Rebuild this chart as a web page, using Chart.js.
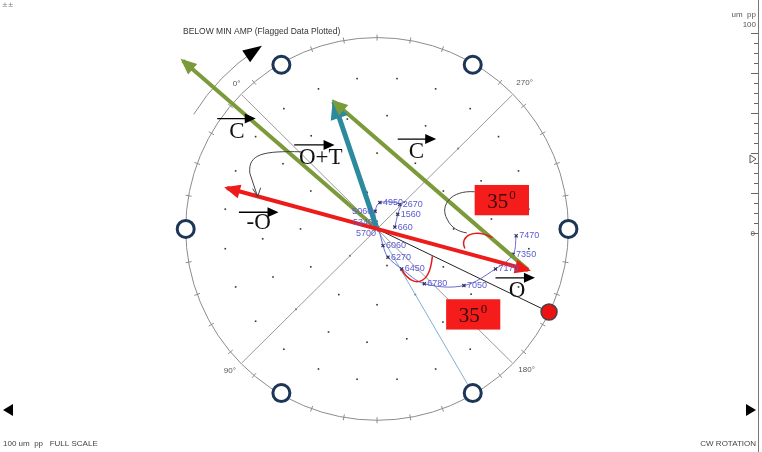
<!DOCTYPE html>
<html><head><meta charset="utf-8">
<script src="https://cdn.jsdelivr.net/npm/chart.js@4/dist/chart.umd.min.js"></script>
<style>html,body{margin:0;padding:0;background:#fff}#wrap{position:relative;width:762px;height:452px}</style>
</head><body><div id="wrap"><canvas id="c"></canvas></div>
<script>
// ---------------- DATA ----------------
const rpmLabels = ['660','1560','2670','4950','5060','5340','5700','6060','6270','6450','6780','7050','7170','7350','7470'];
const orbitX = [9.3,10.8,11.9,1.5,-1.0,-0.5,1.0,3.1,5.7,12.9,24.7,45.4,61.9,71.1,72.7];
const orbitY = [1.0,7.7,12.9,13.9,9.3,3.6,-0.5,-8.8,-14.9,-21.1,-28.9,-29.9,-21.1,-13.4,-3.6];
const orbitLabelSide = ['R','R','R','R','L','L','L','R','R','R','R','R','R','R','R'];

const vectorNames = ['O','-O','T','C','C'];
const vecStartX = [0, 0, 0, 78.9, 0];
const vecStartY = [0, 0, 0, -21.6, 0];
const vecEndX   = [78.9, -78.4, -22.6, -22.6, -101.5];
const vecEndY   = [-21.6, 21.6, 67.1, 67.1, 88.7];

const probeAngles = [0, 60, 120, 180, 240, 300];   // degrees, on full-scale circle
const highSpotAngle = -26;                          // red marker
const refLineAngle = -60;                           // light blue reference line
const crossAngles = [45, 135];
const angleLabels = ['0°', '270°', '90°', '180°'];
const angleLabelDeg = [135, 45, 225, 315];
const fullScale = 100;                              // um pp
const gridRings = [20, 40, 60, 80];
const gridCounts = [6, 12, 18, 24];
const barTicks = [0, 20, 40, 60, 80, 100];
const barValue = 37;
const phaseText = '35';

// ---------------- LAYOUT / STYLE ----------------
const vecColors = ['#ee1b1b','#ee1b1b','#2b8a9d','#7b9a3a','#7b9a3a'];
const vecWidths = [4, 4, 5, 4, 4];
const vecHead = [[16,7],[16,7],[20,9],[16,7],[16,7]];
const labelArrows = [ // [x1,x2,y, textX,textY, text]
  [-83.5,-63.4,58.2,-73.2,51.0,'C'],
  [-43.3,-22.2,44.3,-29.4,37.2,'O+T'],
  [10.8,30.9,47.4,20.6,40.8,'C'],
  [-72.2,-51.5,8.8,-61.9,3.2,'-O'],
  [61.9,82.5,-25.8,73.2,-32.8,'O']
];
const boxes = [[51.0,79.4,23.2,7.2],[36.1,64.4,-37.1,-53.1]];

const datasets = [];
vectorNames.forEach((n,i)=>{
  datasets.push({label:n, data:[{x:vecStartX[i],y:vecStartY[i]},{x:vecEndX[i],y:vecEndY[i]}],
    showLine:true, borderColor:vecColors[i], borderWidth:vecWidths[i], pointRadius:0, borderCapStyle:'butt'});
});
datasets.push({label:'orbit', data:orbitX.map((x,i)=>({x, y:orbitY[i]})), showLine:true,
  borderColor:'#6a6ad6', borderWidth:1, tension:0.35, pointRadius:2.2, pointStyle:'crossRot',
  pointBorderColor:'#30305a', pointBorderWidth:1.2});

function head(c,x0,y0,x1,y1,L,w,color){
  const a=Math.atan2(y1-y0,x1-x0);
  const tx=x1+3*Math.cos(a), ty=y1+3*Math.sin(a);
  c.fillStyle=color; c.beginPath(); c.moveTo(tx,ty);
  c.lineTo(tx-L*Math.cos(a)+w*Math.sin(a), ty-L*Math.sin(a)-w*Math.cos(a));
  c.lineTo(tx-L*Math.cos(a)-w*Math.sin(a), ty-L*Math.sin(a)+w*Math.cos(a));
  c.closePath(); c.fill();
}

const overlay = {
  id:'overlay',
  beforeDatasetsDraw(chart){
    const c=chart.ctx, X=chart.scales.x, Y=chart.scales.y;
    const px=v=>X.getPixelForValue(v), py=v=>Y.getPixelForValue(v);
    const cx=px(0), cy=py(0), R=px(fullScale)-cx;
    const pol=(r,d)=>[px(r*Math.cos(d*Math.PI/180)), py(r*Math.sin(d*Math.PI/180))];
    c.save();
    // dot grid
    c.fillStyle='#333';
    gridRings.forEach((r,i)=>{const n=gridCounts[i];for(let k=0;k<n;k++){const d=(k+0.5)/n*360+15;const p=pol(r,d);c.fillRect(p[0]-0.8,p[1]-0.8,1.6,1.6);}});
    // main circle + ticks
    c.strokeStyle='#8c8c8c'; c.lineWidth=1;
    c.beginPath(); c.arc(cx,cy,R,0,Math.PI*2); c.stroke();
    for(let d=0; d<360; d+=10){const a=d*Math.PI/180;
      c.beginPath(); c.moveTo(cx+(R-3)*Math.cos(a), cy-(R-3)*Math.sin(a)); c.lineTo(cx+(R+3)*Math.cos(a), cy-(R+3)*Math.sin(a)); c.stroke();}
    // crosshairs
    c.strokeStyle='#9a9a9a';
    crossAngles.forEach(d=>{const p1=pol(fullScale,d),p2=pol(fullScale,d+180);c.beginPath();c.moveTo(p1[0],p1[1]);c.lineTo(p2[0],p2[1]);c.stroke();});
    // reference lines
    c.strokeStyle='#7fb0d6'; c.lineWidth=1;
    let p=pol(fullScale,refLineAngle); c.beginPath(); c.moveTo(cx,cy); c.lineTo(p[0],p[1]); c.stroke();
    c.strokeStyle='#222'; c.lineWidth=1;
    p=pol(fullScale,highSpotAngle); c.beginPath(); c.moveTo(cx,cy); c.lineTo(p[0],p[1]); c.stroke();
    // angle labels
    c.fillStyle='#555'; c.font='8px "Liberation Sans", Arial'; c.textBaseline='middle';
    const offs=[[-9,-11,'left'],[4,-12,'left'],[-18,8,'left'],[6,7,'left']];
    angleLabels.forEach((t,i)=>{const q=pol(fullScale,angleLabelDeg[i]);c.textAlign=offs[i][2];c.fillText(t,q[0]+offs[i][0],q[1]+offs[i][1]);});
    // outer rotation arc
    const Ro=R*1.13, a0=148*Math.PI/180, a1=124*Math.PI/180;
    c.strokeStyle='#8c8c8c'; c.lineWidth=1;
    c.beginPath(); c.arc(cx,cy,Ro,-a0,-a1,false); c.stroke();
    const ex=cx+Ro*Math.cos(a1), ey=cy-Ro*Math.sin(a1);
    const tx=Math.sin(a1), ty=Math.cos(a1); // clockwise tangent on screen
    c.fillStyle='#000'; c.beginPath();
    c.moveTo(ex+tx*7, ey+ty*7);
    c.lineTo(ex-tx*12+Math.cos(a1)*7, ey-ty*12-Math.sin(a1)*7);
    c.lineTo(ex-tx*12-Math.cos(a1)*7, ey-ty*12+Math.sin(a1)*7);
    c.closePath(); c.fill();
    c.restore();
  },
  afterDatasetsDraw(chart){
    const c=chart.ctx, X=chart.scales.x, Y=chart.scales.y;
    const px=v=>X.getPixelForValue(v), py=v=>Y.getPixelForValue(v);
    const cx=px(0), cy=py(0), R=px(fullScale)-cx;
    const pol=(r,d)=>[px(r*Math.cos(d*Math.PI/180)), py(r*Math.sin(d*Math.PI/180))];
    c.save();
    // vector arrowheads
    vectorNames.forEach((n,i)=>head(c,px(vecStartX[i]),py(vecStartY[i]),px(vecEndX[i]),py(vecEndY[i]),vecHead[i][0],vecHead[i][1],vecColors[i]));
    // probes
    c.strokeStyle='#1d3557'; c.lineWidth=3; c.fillStyle='#fff';
    probeAngles.forEach(d=>{const q=pol(fullScale,d);c.beginPath();c.arc(q[0],q[1],8.5,0,Math.PI*2);c.fill();c.stroke();});
    // high spot marker
    let q=pol(fullScale,highSpotAngle);
    c.fillStyle='#ee1111'; c.strokeStyle='#444'; c.lineWidth=1.5;
    c.beginPath(); c.arc(q[0],q[1],8,0,Math.PI*2); c.fill(); c.stroke();
    // red angle arcs
    c.strokeStyle='#e41a1a'; c.lineWidth=1.5;
    c.beginPath(); c.moveTo(px(45.9),py(-10.3)); c.bezierCurveTo(px(42.8),py(-3.6),px(51.0),py(0.5),px(60.3),py(-4.6)); c.stroke();
    c.beginPath(); c.moveTo(px(28.9),py(-14.4)); c.bezierCurveTo(px(27.3),py(-31.4),px(18.0),py(-30.4),px(12.9),py(-21.6)); c.stroke();
    // connectors
    c.strokeStyle='#444'; c.lineWidth=1;
    c.beginPath(); c.moveTo(px(51.0),py(19.6)); c.bezierCurveTo(px(38.7),py(20.6),px(32.5),py(12.4),px(36.6),py(5.2));
    c.bezierCurveTo(px(38.7),py(0.5),px(42.8),py(-1.5),px(46.9),py(-2.1)); c.stroke();
    c.beginPath(); c.moveTo(px(-39.7),py(40.7)); c.bezierCurveTo(px(-59.3),py(41.2),px(-67.5),py(39.7),px(-66.5),py(29.4));
    c.lineTo(px(-62.4),py(17.0)); c.stroke();
    const ax=px(-62.4), ay=py(17.0);
    c.beginPath(); c.moveTo(ax-5,ay-8); c.lineTo(ax,ay); c.lineTo(ax+3,ay-9); c.stroke();
    // phase boxes
    boxes.forEach(b=>{
      const x1=px(b[0]),x2=px(b[1]),y1=py(b[2]),y2=py(b[3]);
      c.fillStyle='#f51c1c'; c.fillRect(x1,y1,x2-x1,y2-y1);
      c.fillStyle='#3a0808'; c.textBaseline='alphabetic'; c.textAlign='left';
      c.font='21px "Liberation Serif", serif';
      const w=c.measureText(phaseText).width;
      const mx=(x1+x2)/2-4, my=(y1+y2)/2+8;
      c.fillText(phaseText,mx-w/2,my);
      c.font='13px "Liberation Serif", serif';
      c.fillText('0',mx+w/2+1,my-9);
    });
    // vector labels with arrows
    labelArrows.forEach(a=>{
      const x1=px(a[0]),x2=px(a[1]),y=py(a[2]);
      c.strokeStyle='#000'; c.lineWidth=1.3;
      c.beginPath(); c.moveTo(x1,y); c.lineTo(x2-6,y); c.stroke();
      c.fillStyle='#000'; c.beginPath(); c.moveTo(x2,y); c.lineTo(x2-11,y-5); c.lineTo(x2-11,y+5); c.closePath(); c.fill();
      c.font='23px "Liberation Serif", serif'; c.textAlign='center'; c.textBaseline='middle';
      c.fillStyle='#111'; c.fillText(a[5],px(a[3]),py(a[4]));
    });
    // orbit labels
    c.font='9px "Liberation Sans", Arial'; c.fillStyle='#5a5ad2'; c.textBaseline='middle';
    rpmLabels.forEach((t,i)=>{
      const x=px(orbitX[i]), y=py(orbitY[i]);
      if(orbitLabelSide[i]==='L'){c.textAlign='right'; c.fillText(t,x-3,y+(i===6?4:0));}
      else {c.textAlign='left'; c.fillText(t,x+3,y);}
    });
    // right scale bar
    const top=33, bot=233, bx=758;
    c.strokeStyle='#777'; c.lineWidth=1;
    c.beginPath(); c.moveTo(bx+0.5,0); c.lineTo(bx+0.5,452); c.stroke();
    c.strokeStyle='#666';
    for(let v=0; v<=100; v+=5){const y=Math.round(bot-(bot-top)*v/100)+0.5; const L=(v%20===0)?7:4;
      c.beginPath(); c.moveTo(bx-L,y); c.lineTo(bx,y); c.stroke();}
    c.fillStyle='#555'; c.font='8px "Liberation Sans", Arial'; c.textAlign='right'; c.textBaseline='middle';
    c.fillText('um  pp', 756, 15);
    c.fillText(String(barTicks[barTicks.length-1]), 756, 25);
    c.fillText(String(barTicks[0]), 755, bot+1);
    const vy=bot-(bot-top)*barValue/100;
    c.strokeStyle='#555'; c.beginPath(); c.moveTo(750,vy-4); c.lineTo(756,vy); c.lineTo(750,vy+4); c.closePath(); c.stroke();
    // header / footer texts
    c.fillStyle='#333'; c.textAlign='left'; c.font='8.5px "Liberation Sans", Arial';
    c.fillText('BELOW MIN AMP (Flagged Data Plotted)', 183, 32);
    c.font='8px "Liberation Sans", Arial'; c.fillStyle='#444';
    c.fillText('100 um  pp   FULL SCALE', 3, 444);
    c.textAlign='right'; c.fillText('CW ROTATION', 756, 444);
    c.fillStyle='#777'; c.textAlign='left'; c.font='7px "DejaVu Sans"'; c.fillText('±±', 2, 5);
    // rotation triangles
    c.fillStyle='#000';
    c.beginPath(); c.moveTo(3,410); c.lineTo(13,404); c.lineTo(13,416); c.closePath(); c.fill();
    c.beginPath(); c.moveTo(756,410); c.lineTo(746,404); c.lineTo(746,416); c.closePath(); c.fill();
    c.restore();
  }
};

new Chart(document.getElementById('c'), {
  type:'scatter',
  data:{datasets},
  options:{
    responsive:true, maintainAspectRatio:false, animation:false, events:[],
    layout:{padding:0},
    plugins:{legend:{display:false}, tooltip:{enabled:false}},
    scales:{
      x:{type:'linear', display:false, min:-194.33, max:198.45},
      y:{type:'linear', display:false, min:-114.95, max:118.04}
    }
  },
  plugins:[overlay]
});
</script>
</body></html>
